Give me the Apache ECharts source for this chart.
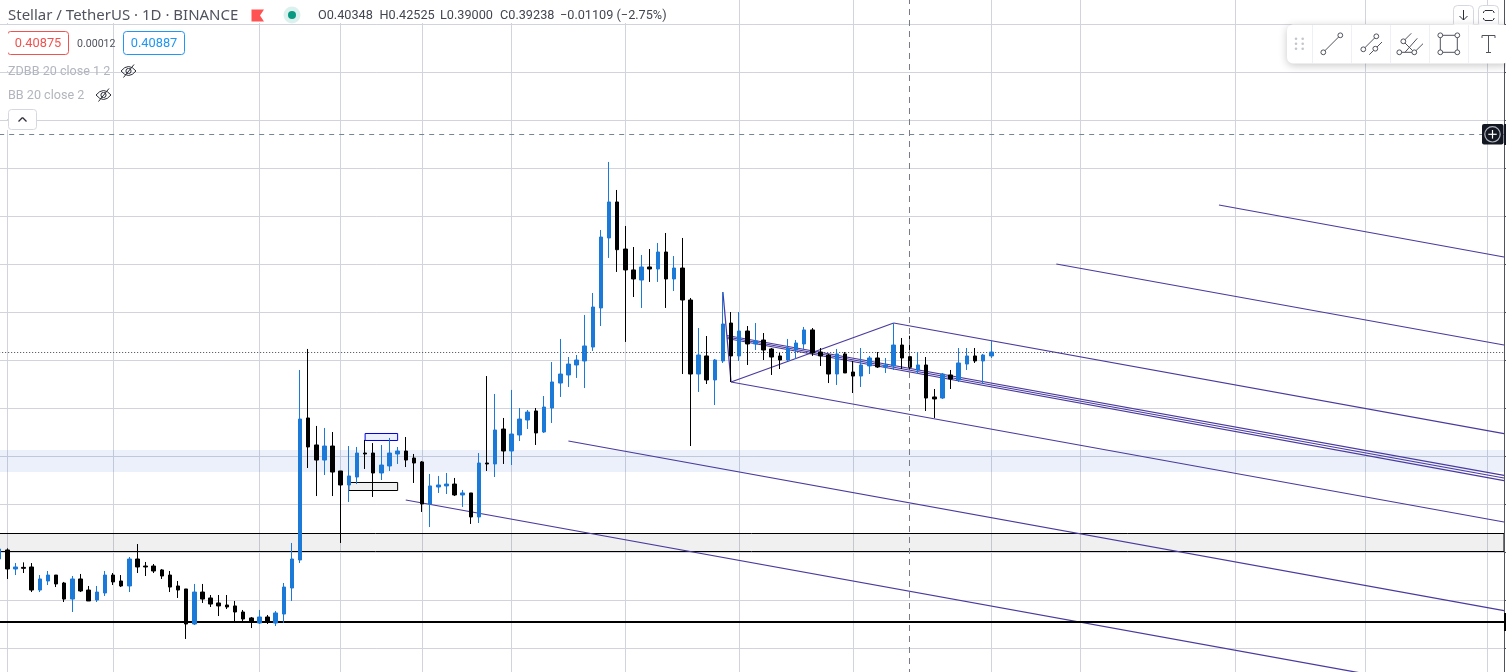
<!DOCTYPE html>
<html>
<head>
<meta charset="utf-8">
<title>Stellar / TetherUS</title>
<style>html,body{margin:0;padding:0;background:#fff}#main{width:1506px;height:672px}</style>
<script src="https://cdn.jsdelivr.net/npm/echarts@6/dist/echarts.min.js"></script>
</head>
<body>
<div id="main"></div>
<script>
// ---------- data ----------
const firstDay = '2020-11-30';
const dayCount = 187;
const gridDates = ['2020-12-01','2020-12-14','2021-01-01','2021-01-11','2021-01-21','2021-02-01','2021-02-15','2021-03-01','2021-03-15','2021-04-01','2021-04-12','2021-05-01','2021-05-17','2021-06-01'];
const priceTicks = {min:0.05, max:0.8, step:0.05};

const opens = [.1927,.2021,.1823,.1840,.1844,.1604,.1698,.1760,.1677,.1510,.1719,.1604,.1500,.1573,.1760,.1698,.1646,.1927,.1854,.1854,.1813,.1760,.1646,.1615,.1250,.1583,.1521,.1469,.1448,.1438,.1375,.1313,.1260,.1323,.1260,.1354,.1625,
.1917,.3396,.3115,.2958,.3104,.2844,.2698,.2781,.3031,.3031,.2823,.2896,.3021,.3052,.2979,.2938,.2500,.2677,.2688,.2708,.2594,.2615,.2365,.2927,.2917,
.3281,.3052,.3219,.3375,.3469,.3250,.3500,.3760,.3844,.3948,.3990,.4135,.4542,.5271,.5646,.5156,.4938,.4833,.4969,.4948,.5125,.4844,.4958,.4625,.3854,.4042,.3792,.3990,
.4385,.4042,.4302,.4167,.4208,.4115,.4042,.4000,.4104,.4167,.4313,.4083,.4052,.3854,.4063,.3875,.3833,.3938,.4021,.3927,.3938,.4156,.40348,.3896,.3948,.3615,.3604,.3844,.3792,.3958,.4042,.3990,.4042];
const closes = [.2031,.1823,.1844,.1830,.1604,.1719,.1760,.1667,.1510,.1719,.1594,.1490,.1583,.1760,.1688,.1646,.1927,.1844,.1844,.1802,.1750,.1635,.1604,.1250,.1583,.1510,.1458,.1438,.1427,.1375,.1302,.1271,.1323,.1271,.1365,.1635,.1927,
.3385,.3094,.2958,.3104,.2833,.2698,.2792,.3031,.3021,.2823,.2906,.3031,.3052,.2958,.2927,.2500,.2688,.2698,.2708,.2594,.2615,.2365,.2927,.2917,.3271,
.3052,.3229,.3385,.3458,.3240,.3510,.3771,.3854,.3958,.4000,.4146,.4552,.5281,.5646,.5149,.4938,.4844,.4969,.4948,.5125,.4844,.4958,.4625,.3854,.4052,.3792,.4000,.4375,
.4042,.4302,.4167,.4198,.4104,.4031,.4000,.4125,.4177,.4313,.4073,.4042,.3854,.4063,.3865,.3833,.3948,.4021,.3927,.3948,.4156,.4021,.39238,.3948,.3604,.3594,.3854,.3802,.3969,.4042,.3990,.4052,.4083];
const lows = [.1917,.1719,.1760,.1781,.1583,.1583,.1656,.1635,.1479,.1375,.1583,.1490,.1479,.1542,.1656,.1635,.1583,.1781,.1750,.1781,.1719,.1583,.1521,.1094,.1240,.1469,.1427,.1333,.1406,.1271,.1271,.1208,.1250,.1250,.1229,.1260,.1490,
.1885,.2875,.2583,.2802,.2583,.2094,.2521,.2708,.2865,.2573,.2750,.2844,.2917,.2885,.2719,.2417,.2260,.2615,.2604,.2583,.2469,.2292,.2302,.2844,.2781,
.2917,.2906,.3156,.3281,.3115,.3240,.3344,.3615,.3719,.3813,.3708,.4094,.4354,.5063,.4917,.4188,.4656,.4542,.4813,.4813,.4542,.4719,.3854,.3104,.3667,.3750,.3531,.3969,
.3771,.3990,.3948,.4104,.4000,.3844,.3906,.3990,.4010,.4115,.4042,.3938,.3760,.3740,.3865,.3656,.3719,.3854,.3917,.3865,.3896,.3906,.39000,.3854,.3469,.3396,.3594,.3698,.3771,.3896,.3969,.3750,.4021];
const highs = [.2056,.2038,.1885,.1892,.1885,.1760,.1802,.1760,.1688,.1750,.1771,.1646,.1646,.1802,.1781,.1760,.1948,.2083,.1896,.1875,.1823,.1802,.1698,.1615,.1667,.1667,.1552,.1552,.1552,.1490,.1396,.1323,.1396,.1344,.1385,.1677,.2094,
.3896,.4115,.3313,.3292,.3250,.2844,.3104,.3094,.3167,.3135,.3115,.3188,.3094,.3198,.3021,.2948,.2813,.2792,.2823,.2771,.2646,.2615,.3031,.3833,.3646,
.3396,.3688,.3500,.3479,.3500,.3625,.3979,.4219,.4031,.4052,.4469,.4698,.5354,.6063,.5771,.5396,.5177,.5094,.5156,.5219,.5323,.5083,.5271,.4646,.4333,.4250,.4010,.4708,
.4500,.4500,.4354,.4385,.4281,.4125,.4073,.4219,.4208,.4344,.4333,.4125,.4063,.4115,.4083,.3990,.4125,.4042,.4083,.4021,.4385,.4229,.42525,.4083,.4031,.3698,.3865,.3896,.4125,.4125,.4125,.4063,.4198];

// drawing tools, in bar number (0 = first day after firstDay) and price
const trendLines = [
  [88,.47083,89,.37708],
  [89,.37708,109,.43854],
  [109,.43854,184.05,.32323],
  [89,.37708,184.05,.23125],
  [88.5,.42552,184.05,.27990],
  [88.5,.42396,184.05,.27708],
  [88.5,.42240,184.05,.27427],
  [69,.31562,184.05,.13885],
  [49,.25417,171,.06698],
  [129,.50000,184.05,.41562],
  [149,.56146,184.05,.50729]
];
const levelBands = [
  {from:-1, to:184.05, top:.30625, bottom:.28333, fill:'rgba(30,90,200,.09)', edge:'transparent', edgeWidth:0},
  {from:-1, to:184.05, top:.21927, bottom:.20052, fill:'rgba(0,0,0,.06)', edge:'#000000', edgeWidth:1},
  {from:44, to:48, top:.32344, bottom:.31615, fill:'rgba(30,90,200,.09)', edge:'#0000e6', edgeWidth:1},
  {from:42, to:48, top:.27240, bottom:.26406, fill:'rgba(0,0,0,.06)', edge:'#000000', edgeWidth:1}
];
const rightEdgeBar = 184.05;
const supportLevel = .12708;
const alertLevel = .63490;
const lastPrice = .40781;
const crosshairBar = 110.944;

// ---------- categories ----------
const categories = [];
{
  const start = Date.parse(firstDay + 'T00:00:00Z');
  for (let i = 0; i < dayCount; i++) categories.push(new Date(start + i * 86400000).toISOString().slice(0, 10));
}
const candles = opens.map((o, i) => [o, closes[i], lows[i], highs[i]]);
const gridSet = new Set(gridDates);

// ---------- colours ----------
const UP = '#1b79d8', DOWN = '#000000', GRID = '#d1d4dc', PURPLE = '#4a3a9f';

// ---------- series ----------
const drawingSeries = trendLines.map(s => ({
  type:'line', xAxisIndex:1, yAxisIndex:0, z:2, silent:true, symbol:'none', animation:false,
  data:[[s[0],s[1]],[s[2],s[3]]],
  lineStyle:{color:PURPLE, width:1.25}
}));
function levelLine(price, color, width, dash, z) {
  return {type:'line', xAxisIndex:1, yAxisIndex:0, z:z, silent:true, symbol:'none', animation:false,
    data:[[-1,price],[rightEdgeBar,price]],
    lineStyle:{color:color, width:width, type:dash}};
}
const crosshairSeries = {
  type:'line', xAxisIndex:1, yAxisIndex:0, z:5, silent:true, symbol:'none', animation:false,
  data:[[crosshairBar,priceTicks.max],[crosshairBar,priceTicks.min]],
  lineStyle:{color:'#787b86', width:1, type:[6, 5]}
};
const bandSeries = {
  type:'line', xAxisIndex:1, yAxisIndex:0, z:1, silent:true, symbol:'none', animation:false, data:[],
  markArea:{silent:true, animation:false, z:1, data:levelBands.map(b => [
    {xAxis:b.from, yAxis:b.top, itemStyle:{color:b.fill, borderColor:b.edge, borderWidth:b.edgeWidth}},
    {xAxis:b.to, yAxis:b.bottom}
  ])}
};

// ---------- interface chrome ----------
const FONT = 'Roboto, sans-serif';
function txt(x, y, s, size, color, extra) {
  return {type:'text', z:110, silent:true, style:Object.assign({x:x, y:y, text:s, fill:color, font:size + 'px ' + FONT, textVerticalAlign:'middle'}, extra || {})};
}
function box(x, y, w, h, r, fill, stroke, extra) {
  return {type:'rect', z:105, silent:true, shape:{x:x, y:y, width:w, height:h, r:r}, style:Object.assign({fill:fill, stroke:stroke, lineWidth:1}, extra || {})};
}
function seg(x1, y1, x2, y2, color, w) {
  return {type:'line', z:112, silent:true, shape:{x1:x1, y1:y1, x2:x2, y2:y2}, style:{stroke:color || '#50535e', lineWidth:w || 1}};
}
function dot(x, y) {
  return {type:'circle', z:113, silent:true, shape:{cx:x, cy:y, r:2.4}, style:{fill:'#fff', stroke:'#50535e', lineWidth:1}};
}
function curve(x1, y1, cx, cy, x2, y2, color) {
  return {type:'bezierCurve', z:112, silent:true, shape:{x1:x1, y1:y1, x2:x2, y2:y2, cpx1:cx, cpy1:cy}, style:{fill:'none', stroke:color || '#2a2e39', lineWidth:1}};
}
function eyeOff(x, y) {
  return [
    curve(x, y, x + 7.5, y - 9, x + 15, y),
    curve(x, y, x + 7.5, y + 9, x + 15, y),
    {type:'circle', z:112, silent:true, shape:{cx:x + 7.5, cy:y, r:2.6}, style:{fill:'none', stroke:'#2a2e39', lineWidth:1}},
    seg(x + 2.5, y + 6.5, x + 13, y - 6.5, '#2a2e39', 1)
  ];
}
const chrome = [
  box(0, 0, 670, 23, 0, '#fff', 'none'),
  seg(7.5, 25, 7.5, 71, '#ffffff'), seg(7.5, 73, 7.5, 119, '#ffffff'), seg(7.5, 121, 7.5, 130, '#ffffff'),
  txt(8, 16, 'Stellar / TetherUS · 1D · BINANCE', 15, '#50535e', {font:'15px "Noto Sans", sans-serif'}),
  {type:'polygon', z:110, silent:true, shape:{points:[[251.5,9.5],[264,9.5],[260,15.5],[264,21.5],[251.5,21.5]]}, style:{fill:'#ff5252'}},
  {type:'circle', z:110, silent:true, shape:{cx:292, cy:15, r:8.5}, style:{fill:'#dcf1ed'}},
  {type:'circle', z:111, silent:true, shape:{cx:292, cy:15, r:4}, style:{fill:'#089981'}},
  txt(318, 16, 'O0.40348', 12.7, '#434651'),
  txt(379.5, 16, 'H0.42525', 12.7, '#434651'),
  txt(440, 16, 'L0.39000', 12.7, '#434651'),
  txt(500, 16, 'C0.39238', 12.7, '#434651'),
  txt(560, 16, '−0.01109 (−2.75%)', 12.7, '#434651'),
  box(7.5, 31.5, 61, 23, 3, '#fff', '#ef5350'),
  txt(38, 44, '0.40875', 12.8, '#ef5350', {textAlign:'center'}),
  txt(77, 44, '0.00012', 10.6, '#50535e'),
  box(123.5, 31.5, 61, 23, 3, '#fff', '#2196f3'),
  txt(154, 44, '0.40887', 12.8, '#2196f3', {textAlign:'center'}),
  txt(8, 72, 'ZDBB 20 close 1 2', 12.6, '#b2b5be'),
  ...eyeOff(121, 71),
  txt(8, 96, 'BB 20 close 2', 12.6, '#b2b5be'),
  ...eyeOff(96, 95),
  box(8.5, 109.5, 28, 20, 3, '#fff', '#d6d8e0'),
  seg(18.5, 121.5, 22.5, 117.5, '#2a2e39', 1.3),
  seg(22.5, 117.5, 26.5, 121.5, '#2a2e39', 1.3),

  // price axis edge
  box(1505, 0, 1, 672, 0, '#fff', 'none'),
  box(1504, 0, 1, 672, 0, '#50535e', 'none'),
  box(1504, 124, 2, 21, 0, '#131722', 'none'),
  box(1504, 613, 2, 18, 0, '#000', 'none'),

  // add-alert button
  box(1482, 124, 21.5, 20.5, 2, '#131722', 'none'),
  {type:'circle', z:111, silent:true, shape:{cx:1492.5, cy:134.3, r:7.7}, style:{fill:'none', stroke:'#b2b5be', lineWidth:1.2}},
  seg(1488.3, 134.3, 1496.7, 134.3, '#fff', 1.2),
  seg(1492.5, 130, 1492.5, 138.6, '#fff', 1.2),

  // top-right buttons
  box(1453.5, 5.5, 20, 22, 4, '#fff', '#d6d8e0'),
  box(1478.5, 5.5, 20, 22, 4, '#fff', '#d6d8e0'),
  seg(1463.5, 10, 1463.5, 20, '#2a2e39', 1),
  seg(1459.5, 16, 1463.5, 20, '#2a2e39', 1),
  seg(1467.5, 16, 1463.5, 20, '#2a2e39', 1),
  {type:'polyline', z:112, silent:true, shape:{points:[[1483.5,13],[1483.5,12],[1485,10.5],[1492.5,10.5],[1494,12],[1494,13]]}, style:{fill:'none', stroke:'#2a2e39', lineWidth:1}},
  {type:'polyline', z:112, silent:true, shape:{points:[[1483.5,18],[1483.5,19],[1485,20.5],[1492.5,20.5],[1494,19],[1494,18]]}, style:{fill:'none', stroke:'#2a2e39', lineWidth:1}},

  // floating drawing toolbar
  {type:'rect', z:106, silent:true, shape:{x:1287, y:24.5, width:222, height:39, r:6}, style:{fill:'#fff', shadowBlur:8, shadowColor:'rgba(0,0,0,.22)', shadowOffsetY:2}},
  seg(1312.5, 25, 1312.5, 63, '#eef0f5'), seg(1351.5, 25, 1351.5, 63, '#eef0f5'), seg(1390.5, 25, 1390.5, 63, '#eef0f5'), seg(1429.5, 25, 1429.5, 63, '#eef0f5'), seg(1468.5, 25, 1468.5, 63, '#eef0f5')
];
[1296, 1302.7].forEach(x => [38.7, 43.7, 48.7].forEach(y => chrome.push({type:'circle', z:112, silent:true, shape:{cx:x, cy:y, r:1.3}, style:{fill:'#c3c5ce'}})));
chrome.push(
  seg(1323.3, 52.3, 1340.3, 35.3), dot(1323.3, 52.3), dot(1340.3, 35.3),
  seg(1363.3, 49.3, 1376.3, 36.3), seg(1369.3, 54.7, 1382, 42), dot(1363.3, 49.3), dot(1376.3, 36.3), dot(1375.3, 48.7),
  seg(1399.3, 52.3, 1414.3, 52.3), seg(1403.3, 41.3, 1411.3, 33.3), seg(1414.3, 52.3, 1423, 43.7), seg(1405, 52.3, 1417.3, 38.3), seg(1403.3, 41.3, 1414.3, 52.3),
  dot(1399.3, 52.3), dot(1414.3, 52.3), dot(1403.3, 41.3),
  seg(1440.3, 35.3, 1457.3, 35.3), seg(1457.3, 35.3, 1457.3, 52.3), seg(1457.3, 52.3, 1440.3, 52.3), seg(1440.3, 52.3, 1440.3, 35.3),
  dot(1440.3, 35.3), dot(1457.3, 35.3), dot(1440.3, 52.3), dot(1457.3, 52.3),
  seg(1482, 35.5, 1495, 35.5), seg(1488.5, 35.5, 1488.5, 52.5), seg(1486, 52.5, 1491, 52.5), seg(1482, 35.5, 1482, 38), seg(1495, 35.5, 1495, 38)
);
for (let k = 0; k < 14; k++) chrome.push(box(1505, 24 + 48 * k, 1, 1, 0, '#50535e', 'none'));

// ---------- chart ----------
const chart = echarts.init(document.getElementById('main'), null, {renderer:'canvas'});
chart.setOption({
  animation:false,
  backgroundColor:'#ffffff',
  grid:{left:-0.83, top:-24, width:1512.55, height:720, containLabel:false, outerBoundsMode:'none', show:false},
  tooltip:{show:false},
  xAxis:[
    {type:'category', data:categories, boundaryGap:false,
     axisLine:{show:false}, axisTick:{show:false}, axisLabel:{show:false},
     splitLine:{show:true, interval:(i, v) => gridSet.has(v), lineStyle:{color:GRID, width:1}}},
    {type:'value', min:-1, max:185, show:false, splitLine:{show:false}}
  ],
  yAxis:[{type:'value', min:priceTicks.min, max:priceTicks.max, interval:priceTicks.step, scale:true,
     axisLine:{show:false}, axisTick:{show:false}, axisLabel:{show:false},
     splitLine:{show:true, lineStyle:{color:GRID, width:1}}}],
  series:[
    bandSeries,
    ...drawingSeries,
    levelLine(supportLevel, '#000000', 2, 'solid', 2),
    levelLine(alertLevel, '#758696', 1, [5, 5], 2),
    levelLine(lastPrice, '#434651', 1, [1, 2], 2),
    {type:'candlestick', name:'XLMUSDT', xAxisIndex:0, yAxisIndex:0, z:3, silent:true, animation:false,
     data:candles, barWidth:4, clip:true,
     itemStyle:{color:UP, color0:DOWN, borderColor:UP, borderColor0:DOWN, borderWidth:1}},
    crosshairSeries
  ],
  graphic:{elements:chrome}
});
</script>
</body>
</html>
